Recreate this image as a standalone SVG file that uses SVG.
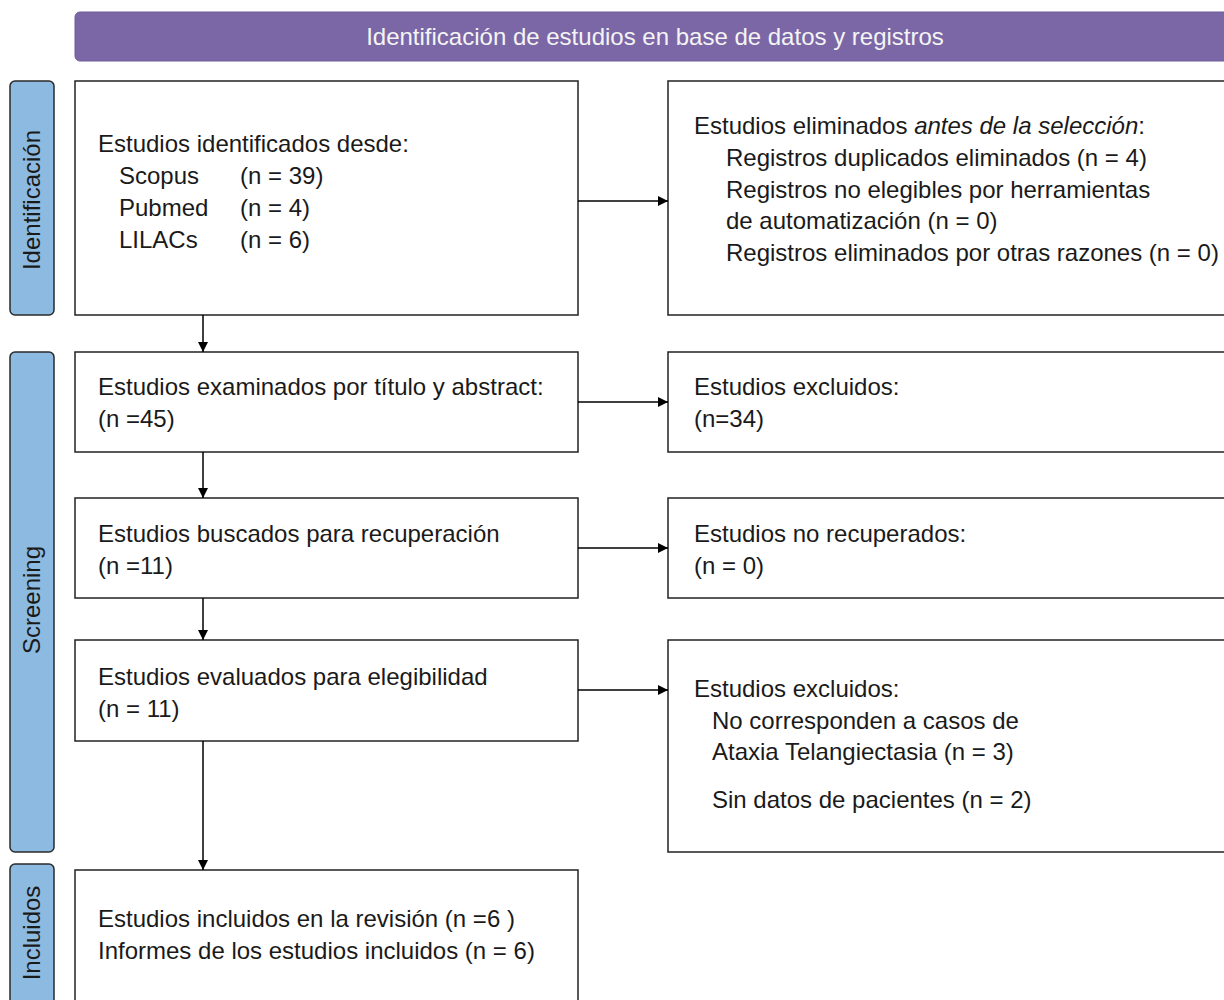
<svg xmlns="http://www.w3.org/2000/svg" width="1224" height="1000" viewBox="0 0 1224 1000">
<defs>
<marker id="arr" viewBox="0 0 10 10" refX="10" refY="5" markerWidth="10" markerHeight="10" markerUnits="userSpaceOnUse" orient="auto">
<path d="M0,0 L10,5 L0,10 z" fill="#000"/>
</marker>
</defs>
<style>
.box{fill:#fff;stroke:#222;stroke-width:1.5}
.tab{fill:#8DBAE0;stroke:#2a2a2a;stroke-width:1.5}
.t{font-family:"Liberation Sans",Arial,sans-serif;font-size:24px;fill:#1a1a1a}
.tr{font-family:"Liberation Sans",Arial,sans-serif;font-size:24px;fill:#1a1a1a}
.tab-t{font-family:"Liberation Sans",Arial,sans-serif;font-size:24px;fill:#1a1a1a;text-anchor:middle}
.c{stroke:#000;stroke-width:1.5;fill:none;marker-end:url(#arr)}
</style>
<rect width="1224" height="1000" fill="#fff"/>
<g id="header">
<rect x="75" y="12" width="1160" height="49" rx="5" fill="#7B67A6" stroke="#6f5c9c" stroke-width="1"/>
<text x="655" y="45" class="t" style="fill:#f4f4f4;text-anchor:middle">Identificación de estudios en base de datos y registros</text>
</g>
<g id="tab-identificacion">
<rect x="10" y="81" width="44" height="234" rx="5" class="tab"/>
<text transform="translate(40,200) rotate(-90)" class="tab-t">Identificación</text>
</g>
<g id="tab-screening">
<rect x="10" y="352" width="44" height="500" rx="5" class="tab"/>
<text transform="translate(40,600) rotate(-90)" class="tab-t">Screening</text>
</g>
<g id="tab-incluidos">
<rect x="10" y="864" width="44" height="150" rx="5" class="tab"/>
<text transform="translate(40,933) rotate(-90)" class="tab-t">Incluidos</text>
</g>
<g id="box-identificados">
<rect x="75" y="81" width="503" height="234" class="box"/>
<text x="98" y="152" class="t">Estudios identificados desde:</text>
<text x="119" y="184" class="t">Scopus</text><text x="240" y="184" class="t">(n = 39)</text>
<text x="119" y="216" class="t">Pubmed</text><text x="240" y="216" class="t">(n = 4)</text>
<text x="119" y="248" class="t">LILACs</text><text x="240" y="248" class="t">(n = 6)</text>
</g>
<g id="box-eliminados">
<rect x="668" y="81" width="570" height="234" class="box"/>
<text x="694" y="134" class="tr">Estudios eliminados <tspan font-style="italic">antes de la selección</tspan>:</text>
<text x="726" y="166" class="tr">Registros duplicados eliminados (n = 4)</text>
<text x="726" y="198" class="tr">Registros no elegibles por herramientas</text>
<text x="726" y="229" class="tr">de automatización (n = 0)</text>
<text x="726" y="261" class="tr">Registros eliminados por otras razones (n = 0)</text>
</g>
<g id="box-examinados">
<rect x="75" y="352" width="503" height="100" class="box"/>
<text x="98" y="395" class="t">Estudios examinados por título y abstract:</text>
<text x="98" y="427" class="t">(n =45)</text>
</g>
<g id="box-excluidos1">
<rect x="668" y="352" width="570" height="100" class="box"/>
<text x="694" y="395" class="tr">Estudios excluidos:</text>
<text x="694" y="427" class="tr">(n=34)</text>
</g>
<g id="box-buscados">
<rect x="75" y="498" width="503" height="100" class="box"/>
<text x="98" y="542" class="t">Estudios buscados para recuperación</text>
<text x="98" y="574" class="t">(n =11)</text>
</g>
<g id="box-norecuperados">
<rect x="668" y="498" width="570" height="100" class="box"/>
<text x="694" y="542" class="tr">Estudios no recuperados:</text>
<text x="694" y="574" class="tr">(n = 0)</text>
</g>
<g id="box-evaluados">
<rect x="75" y="640" width="503" height="101" class="box"/>
<text x="98" y="685" class="t">Estudios evaluados para elegibilidad</text>
<text x="98" y="717" class="t">(n = 11)</text>
</g>
<g id="box-excluidos2">
<rect x="668" y="640" width="570" height="212" class="box"/>
<text x="694" y="697" class="tr">Estudios excluidos:</text>
<text x="712" y="729" class="tr">No corresponden a casos de</text>
<text x="712" y="760" class="tr">Ataxia Telangiectasia (n = 3)</text>
<text x="712" y="808" class="tr">Sin datos de pacientes (n = 2)</text>
</g>
<g id="box-incluidos">
<rect x="75" y="870" width="503" height="150" class="box"/>
<text x="98" y="927" class="t">Estudios incluidos en la revisión (n =6 )</text>
<text x="98" y="959" class="t">Informes de los estudios incluidos (n = 6)</text>
</g>
<g id="connectors">
<line x1="203" y1="315" x2="203" y2="352" class="c"/>
<line x1="203" y1="452" x2="203" y2="498" class="c"/>
<line x1="203" y1="598" x2="203" y2="640" class="c"/>
<line x1="203" y1="741" x2="203" y2="870" class="c"/>
<line x1="578" y1="201" x2="668" y2="201" class="c"/>
<line x1="578" y1="402" x2="668" y2="402" class="c"/>
<line x1="578" y1="548" x2="668" y2="548" class="c"/>
<line x1="578" y1="690" x2="668" y2="690" class="c"/>
</g>
</svg>
